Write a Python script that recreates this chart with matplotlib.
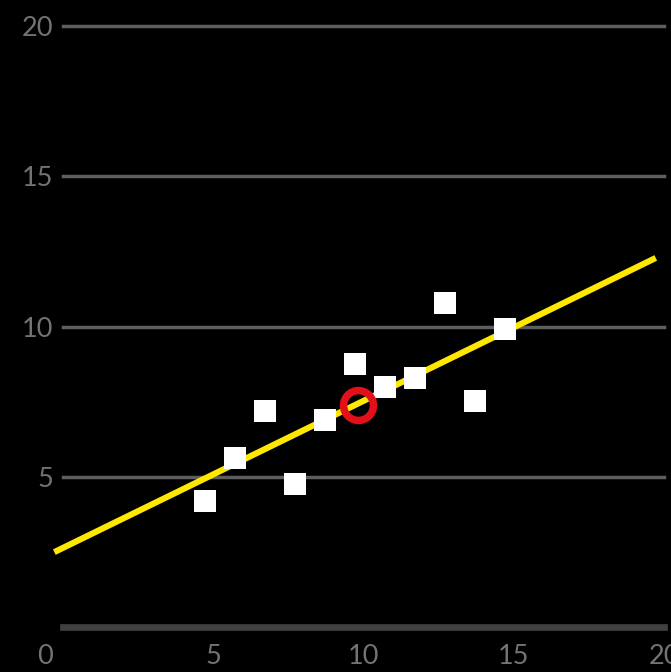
import numpy as np
import matplotlib.pyplot as plt
from matplotlib.transforms import ScaledTranslation

# Anscombe set I
x_vals = [10, 8, 13, 9, 11, 14, 6, 4, 12, 7, 5]
y_vals = [8.04, 6.95, 7.58, 8.81, 8.33, 9.96, 7.24, 4.26, 10.84, 4.82, 5.68]

# fit line end points and mean marker
line_x = [-1, 19]
line_y = [2.5, 12.28]
mean_x = [9.1]
mean_y = [7.4]

x_ticks = [0, 5, 10, 15, 20]
y_ticks = [5, 10, 15, 20]

plt.rcParams['font.family'] = ['Lato', 'DejaVu Sans']

fig = plt.figure(figsize=(6.71, 6.72), dpi=100, facecolor='black')
ax = fig.add_axes([0.0933, 0.0665, 0.8963, 0.8952], facecolor='black')
ax.set_xlim(0, 20)
ax.set_ylim(0, 20)

# marks sit a little right of the axis scale in the original
shift = ScaledTranslation(21.8 / 100, 0, fig.dpi_scale_trans)
shift_sq = ScaledTranslation(21.8 / 100, -1.5 / 100, fig.dpi_scale_trans)

for yt in y_ticks:
    ax.axhline(yt, color='#5e5e5e', lw=2.5, zorder=1, clip_on=False)
ax.axhline(0, color='#404040', lw=4.8, zorder=1, clip_on=False)

ax.plot(line_x, line_y, color='#ffe800', lw=4.4, solid_capstyle='butt',
        transform=ax.transData + shift, zorder=2, clip_on=False)
ax.plot(x_vals, y_vals, 's', color='white', markersize=15.8, markeredgewidth=0,
        transform=ax.transData + shift_sq, zorder=3, clip_on=False)
ax.plot(mean_x, mean_y, 'o', markerfacecolor='none', markeredgecolor='#e3101a',
        markersize=21.5, markeredgewidth=5.4, transform=ax.transData + shift,
        zorder=4, clip_on=False)

for s in ax.spines.values():
    s.set_visible(False)

ax.set_xticks(x_ticks)
ax.set_yticks(y_ticks)
ax.tick_params(length=0, colors='#737373', labelsize=19.5)
ax.tick_params(axis='x', pad=12)
ax.tick_params(axis='y', pad=7)
first = ax.get_xticklabels()[0]
first.set_transform(first.get_transform() + ScaledTranslation(-18 / 100, 0, fig.dpi_scale_trans))

fig.savefig('out.png', dpi=100, facecolor='black')
